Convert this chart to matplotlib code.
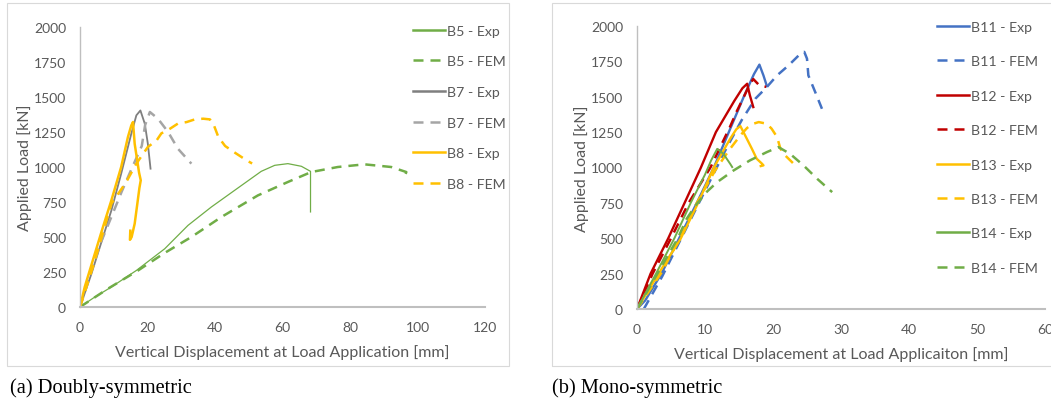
import matplotlib
matplotlib.use("Agg")
import matplotlib.pyplot as plt
from matplotlib.lines import Line2D
from matplotlib.patches import Rectangle

# ---------------- data (a) Doubly-symmetric ----------------
b5_exp_x = [0, 4, 9.3, 16.7, 25.1, 32.0, 38.9, 45.8, 53.7, 57.7, 61.6, 65.6, 68.3, 68.3]
b5_exp_y = [0, 65, 143, 261, 416, 583, 714, 833, 969, 1012, 1024, 1005, 969, 679]
b5_fem_x = [0, 8.3, 17.2, 25.0, 33.0, 41.9, 52.7, 61.6, 68.5, 76.4, 84.3, 92.2, 96.7, 95.7]
b5_fem_y = [0, 131, 261, 385, 500, 643, 797, 893, 964, 1000, 1019, 1000, 964, 905]
b7_exp_x = [0, 3.4, 9.3, 12.2, 15.2, 16.7, 17.9, 19.2, 20.1, 20.9]
b7_exp_y = [0, 238, 690, 952, 1238, 1369, 1404, 1309, 1166, 988]
b7_fem_x = [0, 3.0, 6.0, 9.9, 12.3, 15.3, 18.3, 19.3, 20.7, 23.1, 26.1, 29.0, 33.0]
b7_fem_y = [0, 230, 450, 679, 821, 988, 1150, 1300, 1393, 1345, 1250, 1131, 1024]
b8_exp_x = [0, 1.4, 4.4, 6.8, 9.3, 12.2, 14.2, 15.2, 15.7, 16.2, 17.5, 18.0, 17.6, 17.0, 16.2, 15.3, 14.8, 14.9]
b8_exp_y = [0, 143, 381, 571, 762, 1000, 1214, 1297, 1321, 1166, 960, 905, 850, 740, 595, 500, 480, 545]
b8_fem_x = [0, 4.0, 9.3, 13.7, 16.7, 20.1, 22.7, 24.1, 26.7, 29.0, 31.6, 34.0, 36.5, 38.5, 39.5, 41.0, 43.0, 45.4, 49.4, 51.0]
b8_fem_y = [0, 300, 738, 893, 1024, 1143, 1190, 1240, 1274, 1310, 1321, 1340, 1345, 1340, 1309, 1214, 1150, 1110, 1047, 1025]

# ---------------- data (b) Mono-symmetric ----------------
b11_exp_x = [0, 1.2, 3.6, 6.2, 8.8, 11.3, 13.5, 15.7, 17.2, 18.0, 18.6, 19.1]
b11_exp_y = [0, 60, 250, 500, 750, 1000, 1250, 1500, 1660, 1727, 1650, 1575]
b11_fem_x = [1.0, 3.7, 6.3, 8.8, 11.2, 13.3, 15.4, 17.4, 19.1, 20.6, 22.3, 24.2, 24.6, 25.0, 25.2, 26.2, 27.2]
b11_fem_y = [0, 230, 480, 720, 950, 1150, 1335, 1486, 1569, 1651, 1722, 1812, 1817, 1769, 1651, 1534, 1415]
b12_exp_x = [0, 2.0, 4.6, 7.0, 9.4, 11.6, 14.3, 15.5, 16.2, 16.6, 17.1]
b12_exp_y = [0, 250, 500, 750, 1000, 1250, 1470, 1560, 1592, 1510, 1427]
b12_fem_x = [0, 2.3, 5.0, 7.6, 10.8, 12.7, 13.7, 14.7, 15.7, 16.6, 17.1, 17.6, 18.0, 19.0]
b12_fem_y = [0, 250, 500, 750, 1000, 1190, 1290, 1400, 1498, 1590, 1625, 1600, 1580, 1570]
b13_exp_x = [0, 1.5, 3.9, 6.4, 8.8, 11.3, 12.6, 13.7, 14.6, 15.2, 15.9, 16.9, 17.6, 18.4, 18.6, 18.2]
b13_exp_y = [0, 118, 306, 495, 731, 1000, 1110, 1203, 1270, 1293, 1227, 1132, 1062, 1026, 1015, 1010]
b13_fem_x = [0, 3.5, 6.3, 8.8, 11.5, 13.5, 15.2, 16.2, 17.1, 17.9, 19.1, 19.8, 20.6, 21.1, 21.8, 23.3]
b13_fem_y = [0, 250, 500, 750, 980, 1120, 1227, 1280, 1309, 1321, 1309, 1274, 1215, 1132, 1085, 1014]
b14_exp_x = [0, 2.8, 5.5, 7.9, 10.0, 10.9, 11.8, 12.7, 13.7, 14.0]
b14_exp_y = [0, 250, 500, 750, 950, 1050, 1132, 1097, 1026, 1003]
b14_fem_x = [0, 3.0, 6.0, 7.3, 8.6, 10.3, 11.8, 14.2, 16.6, 19.1, 20.8, 22.5, 24.5, 26.5, 28.7]
b14_fem_y = [0, 250, 500, 637, 731, 830, 897, 979, 1050, 1109, 1144, 1097, 1014, 920, 826]

y_ticks = [0, 250, 500, 750, 1000, 1250, 1500, 1750, 2000]
x_ticks_a = [0, 20, 40, 60, 80, 100, 120]
x_ticks_b = [0, 10, 20, 30, 40, 50, 60]

GREEN = "#70AD47"; GRAY = "#7F7F7F"; LGRAY = "#A5A5A5"; YEL = "#FFC000"
BLUE = "#4472C4"; RED = "#C00000"
TXT = "#595959"
DASH = (4.0, 2.8)

plt.rcParams['font.family'] = ['Lato', 'DejaVu Sans']

W, H = 1051, 406
fig = plt.figure(figsize=(W / 100, H / 100), dpi=100)


def rect(x0, y0, x1, y1):
    return [x0 / W, 1 - y1 / H, (x1 - x0) / W, (y1 - y0) / H]


# panel frames
fig.add_artist(Rectangle((7 / W, 1 - 367 / H), 502 / W, 363 / H, transform=fig.transFigure,
                         fill=False, ec="#D9D9D9", lw=0.8))
fig.add_artist(Rectangle((552 / W, 1 - 367 / H), 520 / W, 363 / H, transform=fig.transFigure,
                         fill=False, ec="#D9D9D9", lw=0.8))

axL = fig.add_axes(rect(80, 28, 485, 308))
axR = fig.add_axes(rect(637, 27, 1045, 310))


def style(ax, xticks, xlabel):
    ax.set_ylim(0, 2000)
    ax.set_xlim(xticks[0], xticks[-1])
    ax.set_yticks(y_ticks)
    ax.set_xticks(xticks)
    ax.set_yticklabels([str(v) for v in y_ticks])
    ax.set_xticklabels([str(v) for v in xticks])
    for s in ("top", "right"):
        ax.spines[s].set_visible(False)
    ax.spines["left"].set_color("#BFBFBF")
    ax.spines["left"].set_linewidth(1.0)
    ax.spines["bottom"].set_color("#BFBFBF")
    ax.spines["bottom"].set_linewidth(1.5)
    ax.tick_params(length=0, labelsize=10, labelcolor=TXT, pad=10)
    ax.set_xlabel(xlabel, fontsize=11.5, color=TXT, labelpad=8)
    ax.set_ylabel("Applied Load [kN]", fontsize=11.5, color=TXT, labelpad=1)
    ax.patch.set_alpha(0)


style(axL, x_ticks_a, "Vertical Displacement at Load Application [mm]")
style(axR, x_ticks_b, "Vertical Displacement at Load Applicaiton [mm]")

# left panel series
axL.plot(b5_exp_x, b5_exp_y, color=GREEN, lw=0.9)
axL.plot(b5_fem_x, b5_fem_y, color=GREEN, lw=1.8, ls=(0, DASH))
axL.plot(b7_exp_x, b7_exp_y, color=GRAY, lw=1.3)
axL.plot(b7_fem_x, b7_fem_y, color=LGRAY, lw=1.8, ls=(0, DASH))
axL.plot(b8_exp_x, b8_exp_y, color=YEL, lw=1.8)
axL.plot(b8_fem_x, b8_fem_y, color=YEL, lw=1.8, ls=(0, DASH))

# right panel series
axR.plot(b11_exp_x, b11_exp_y, color=BLUE, lw=1.7)
axR.plot(b11_fem_x, b11_fem_y, color=BLUE, lw=1.8, ls=(0, DASH))
axR.plot(b12_exp_x, b12_exp_y, color=RED, lw=1.7)
axR.plot(b12_fem_x, b12_fem_y, color=RED, lw=1.8, ls=(0, DASH))
axR.plot(b13_exp_x, b13_exp_y, color=YEL, lw=1.7)
axR.plot(b13_fem_x, b13_fem_y, color=YEL, lw=1.8, ls=(0, DASH))
axR.plot(b14_exp_x, b14_exp_y, color=GREEN, lw=1.4)
axR.plot(b14_fem_x, b14_fem_y, color=GREEN, lw=1.8, ls=(0, DASH))


def legend(ax, names, colors, styles, anchor, spacing):
    handles = []
    for c, s in zip(colors, styles):
        if s == "-":
            handles.append(Line2D([], [], color=c, lw=1.8))
        else:
            handles.append(Line2D([], [], color=c, lw=1.8, ls=(0, DASH)))
    leg = ax.legend(handles, names, loc="upper left", bbox_to_anchor=anchor,
                    bbox_transform=fig.transFigure, frameon=False, fontsize=10.2,
                    handlelength=2.25, handletextpad=0.12, labelspacing=spacing,
                    borderpad=0, borderaxespad=0)
    for t in leg.get_texts():
        t.set_color(TXT)


legend(axL, ["B5 - Exp", "B5 - FEM", "B7 - Exp", "B7 - FEM", "B8 - Exp", "B8 - FEM"],
       [GREEN, GREEN, GRAY, LGRAY, YEL, YEL], ["-", "--", "-", "--", "-", "--"],
       (413 / W, 1 - 25.5 / H), 1.32)
legend(axR, ["B11 - Exp", "B11 - FEM", "B12 - Exp", "B12 - FEM",
             "B13 - Exp", "B13 - FEM", "B14 - Exp", "B14 - FEM"],
       [BLUE, BLUE, RED, RED, YEL, YEL, GREEN, GREEN], ["-", "--"] * 4,
       (937 / W, 1 - 22 / H), 1.58)

fig.text(10 / W, 1 - 388 / H, "(a) Doubly-symmetric", fontsize=14.7, family="Liberation Serif",
         va="center", ha="left", color="black")
fig.text(552 / W, 1 - 388 / H, "(b) Mono-symmetric", fontsize=14.7, family="Liberation Serif",
         va="center", ha="left", color="black")

fig.savefig("out.png", dpi=100)
